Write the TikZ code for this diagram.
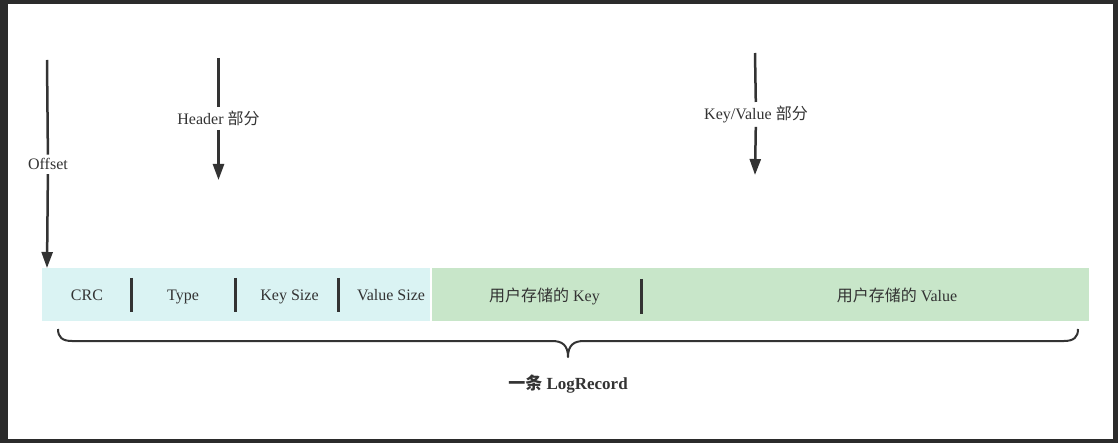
\documentclass[tikz,border=0pt]{standalone}
\usepackage{fontspec}
\setmainfont{Liberation Serif}
\newfontfamily\cjk{Noto Sans CJK SC}
\usetikzlibrary{arrows.meta}
\definecolor{framec}{HTML}{2B2B2B}
\definecolor{cyanbg}{HTML}{DAF3F3}
\definecolor{greenbg}{HTML}{C8E6C9}
\definecolor{ink}{HTML}{333333}
\tikzset{
  lbl/.style={fill=white, text=ink, inner sep=1pt, outer sep=3pt, anchor=base, font=\fontsize{16}{19}\selectfont},
  segtext/.style={text=ink, inner sep=0pt, anchor=base, font=\fontsize{16}{19}\selectfont},
  seg/.style={draw=none, inner sep=0pt, minimum height=53pt},
  arr/.style={draw=ink, line width=2.5pt, -{Triangle[length=16pt,width=11pt]}},
  plain/.style={draw=ink, line width=2.5pt},
  divider/.style={draw=ink, line width=2.5pt},
  bracestyle/.style={draw=ink, line width=2pt, line join=round},
}
\begin{document}
\begin{tikzpicture}[x=1pt,y=-1pt]
\useasboundingbox (0,0) rectangle (1118,443);
\fill[framec] (0,0) rectangle (1118,443);
\fill[white] (8,4) rectangle (1113,439);

% bar segments
\node[seg, fill=cyanbg, minimum width=388pt] (hdr) at (236,294.5) {};
\node[seg, fill=greenbg, minimum width=657pt] (kv) at (760,294.5) {};

% texts in bar
\node[segtext] (crc) at (87,300.5) {CRC};
\node[segtext] (type) at (183,300.5) {Type};
\node[segtext] (ksize) at (289.5,300.5) {Key Size};
\node[segtext] (vsize) at (391,300.5) {Value Size};
\node[segtext] (ukey) at (544.5,301.5) {{\cjk 用户存储的} Key};
\node[segtext] (uval) at (897,301.5) {{\cjk 用户存储的} Value};

% dividers
\draw[divider] (131.7,278) -- (131.7,312);
\draw[divider] (235.7,278) -- (235.7,312);
\draw[divider] (338.7,278) -- (338.7,312);
\draw[divider] (641.7,279) -- (641.7,314);

% Offset arrow
\coordinate (otop) at (47,60);
\coordinate (obar) at (47,268);
\node[lbl] (olab) at (48,170) {Offset};
\draw[plain] (otop) -- (olab);
\draw[arr] (olab) -- (obar);

% Header arrow
\coordinate (htop) at (218.5,58);
\coordinate (hend) at (218.5,180);
\node[lbl] (hlab) at (218.5,124.5) {Header {\cjk 部分}};
\draw[plain] (htop) -- (hlab);
\draw[arr] (hlab) -- (hend);

% Key/Value arrow
\coordinate (ktop) at (755,53);
\coordinate (kend) at (755,175);
\node[lbl] (klab) at (756,119.5) {Key/Value {\cjk 部分}};
\draw[plain] (ktop) -- (klab);
\draw[arr] (klab) -- (kend);

% brace
\coordinate (bl) at (58,329);
\coordinate (br) at (1078,329);
\coordinate (btip) at (568,357);
\draw[bracestyle] (bl) .. controls (58,337) and (62,341) .. (72,341) -- (552,341)
  .. controls (562,341) and (568,345) .. (btip)
  .. controls (568,345) and (574,341) .. (584,341) -- (1064,341)
  .. controls (1074,341) and (1078,337) .. (br);
\node[text=ink, inner sep=0pt, anchor=base, font=\fontsize{17}{20}\selectfont\bfseries] (rec) at (568,389.5) {{\cjk 一条} LogRecord};
\end{tikzpicture}
\end{document}
